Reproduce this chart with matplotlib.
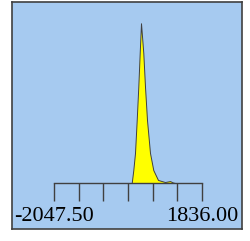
import matplotlib
matplotlib.use("Agg")
import matplotlib.pyplot as plt
import numpy as np

# ── Data ──────────────────────────────────────────────────────────────────
x_min = -2047.50
x_max = 1836.00
n_ticks = 7

# histogram profile (value, count)
hist_x = [-8.6, 33.3, 77.9, 122.5, 164.5, 201.3, 235.4, 295.7, 340.3,
          392.8, 471.5, 558.1, 681.5, 865.1, 996.3, 1075.1, 1127.5]
hist_y = [0, 81, 188, 394, 603, 814, 1000, 814, 603,
          394, 188, 81, 19, 6, 12, 3, 0]

# ── Style ─────────────────────────────────────────────────────────────────
BG = "#a6caf0"
LINE = "#404040"

fig = plt.figure(figsize=(2.51, 2.41), dpi=100, facecolor="white")
ax = fig.add_axes([12 / 251, 12 / 241, 230 / 251, 227 / 241])
ax.set_facecolor(BG)

ax.set_xlim(-3149.6, 2885.6)
ax.set_ylim(-288, 1133)

ax.fill_between(hist_x, hist_y, 0, color="#ffff00", edgecolor=LINE, linewidth=0.7, zorder=3)

# custom axis: baseline + downward ticks
ticks = np.linspace(x_min, x_max, n_ticks)
ax.plot([x_min, x_max], [0, 0], color=LINE, linewidth=1, zorder=4)
ax.vlines(ticks, -113, 0, color=LINE, linewidth=1, zorder=4)

font = dict(family=["Liberation Serif", "DejaVu Serif"], fontsize=16, color="black")
ax.text(x_min, -150, f"{x_min:.2f}", ha="center", va="top", **font)
ax.text(x_max, -150, f"{x_max:.2f}", ha="center", va="top", **font)

ax.set_xticks([])
ax.set_yticks([])
for s in ax.spines.values():
    s.set_color(LINE)
    s.set_linewidth(1.2)

fig.savefig("out.png", dpi=100, facecolor="white")
